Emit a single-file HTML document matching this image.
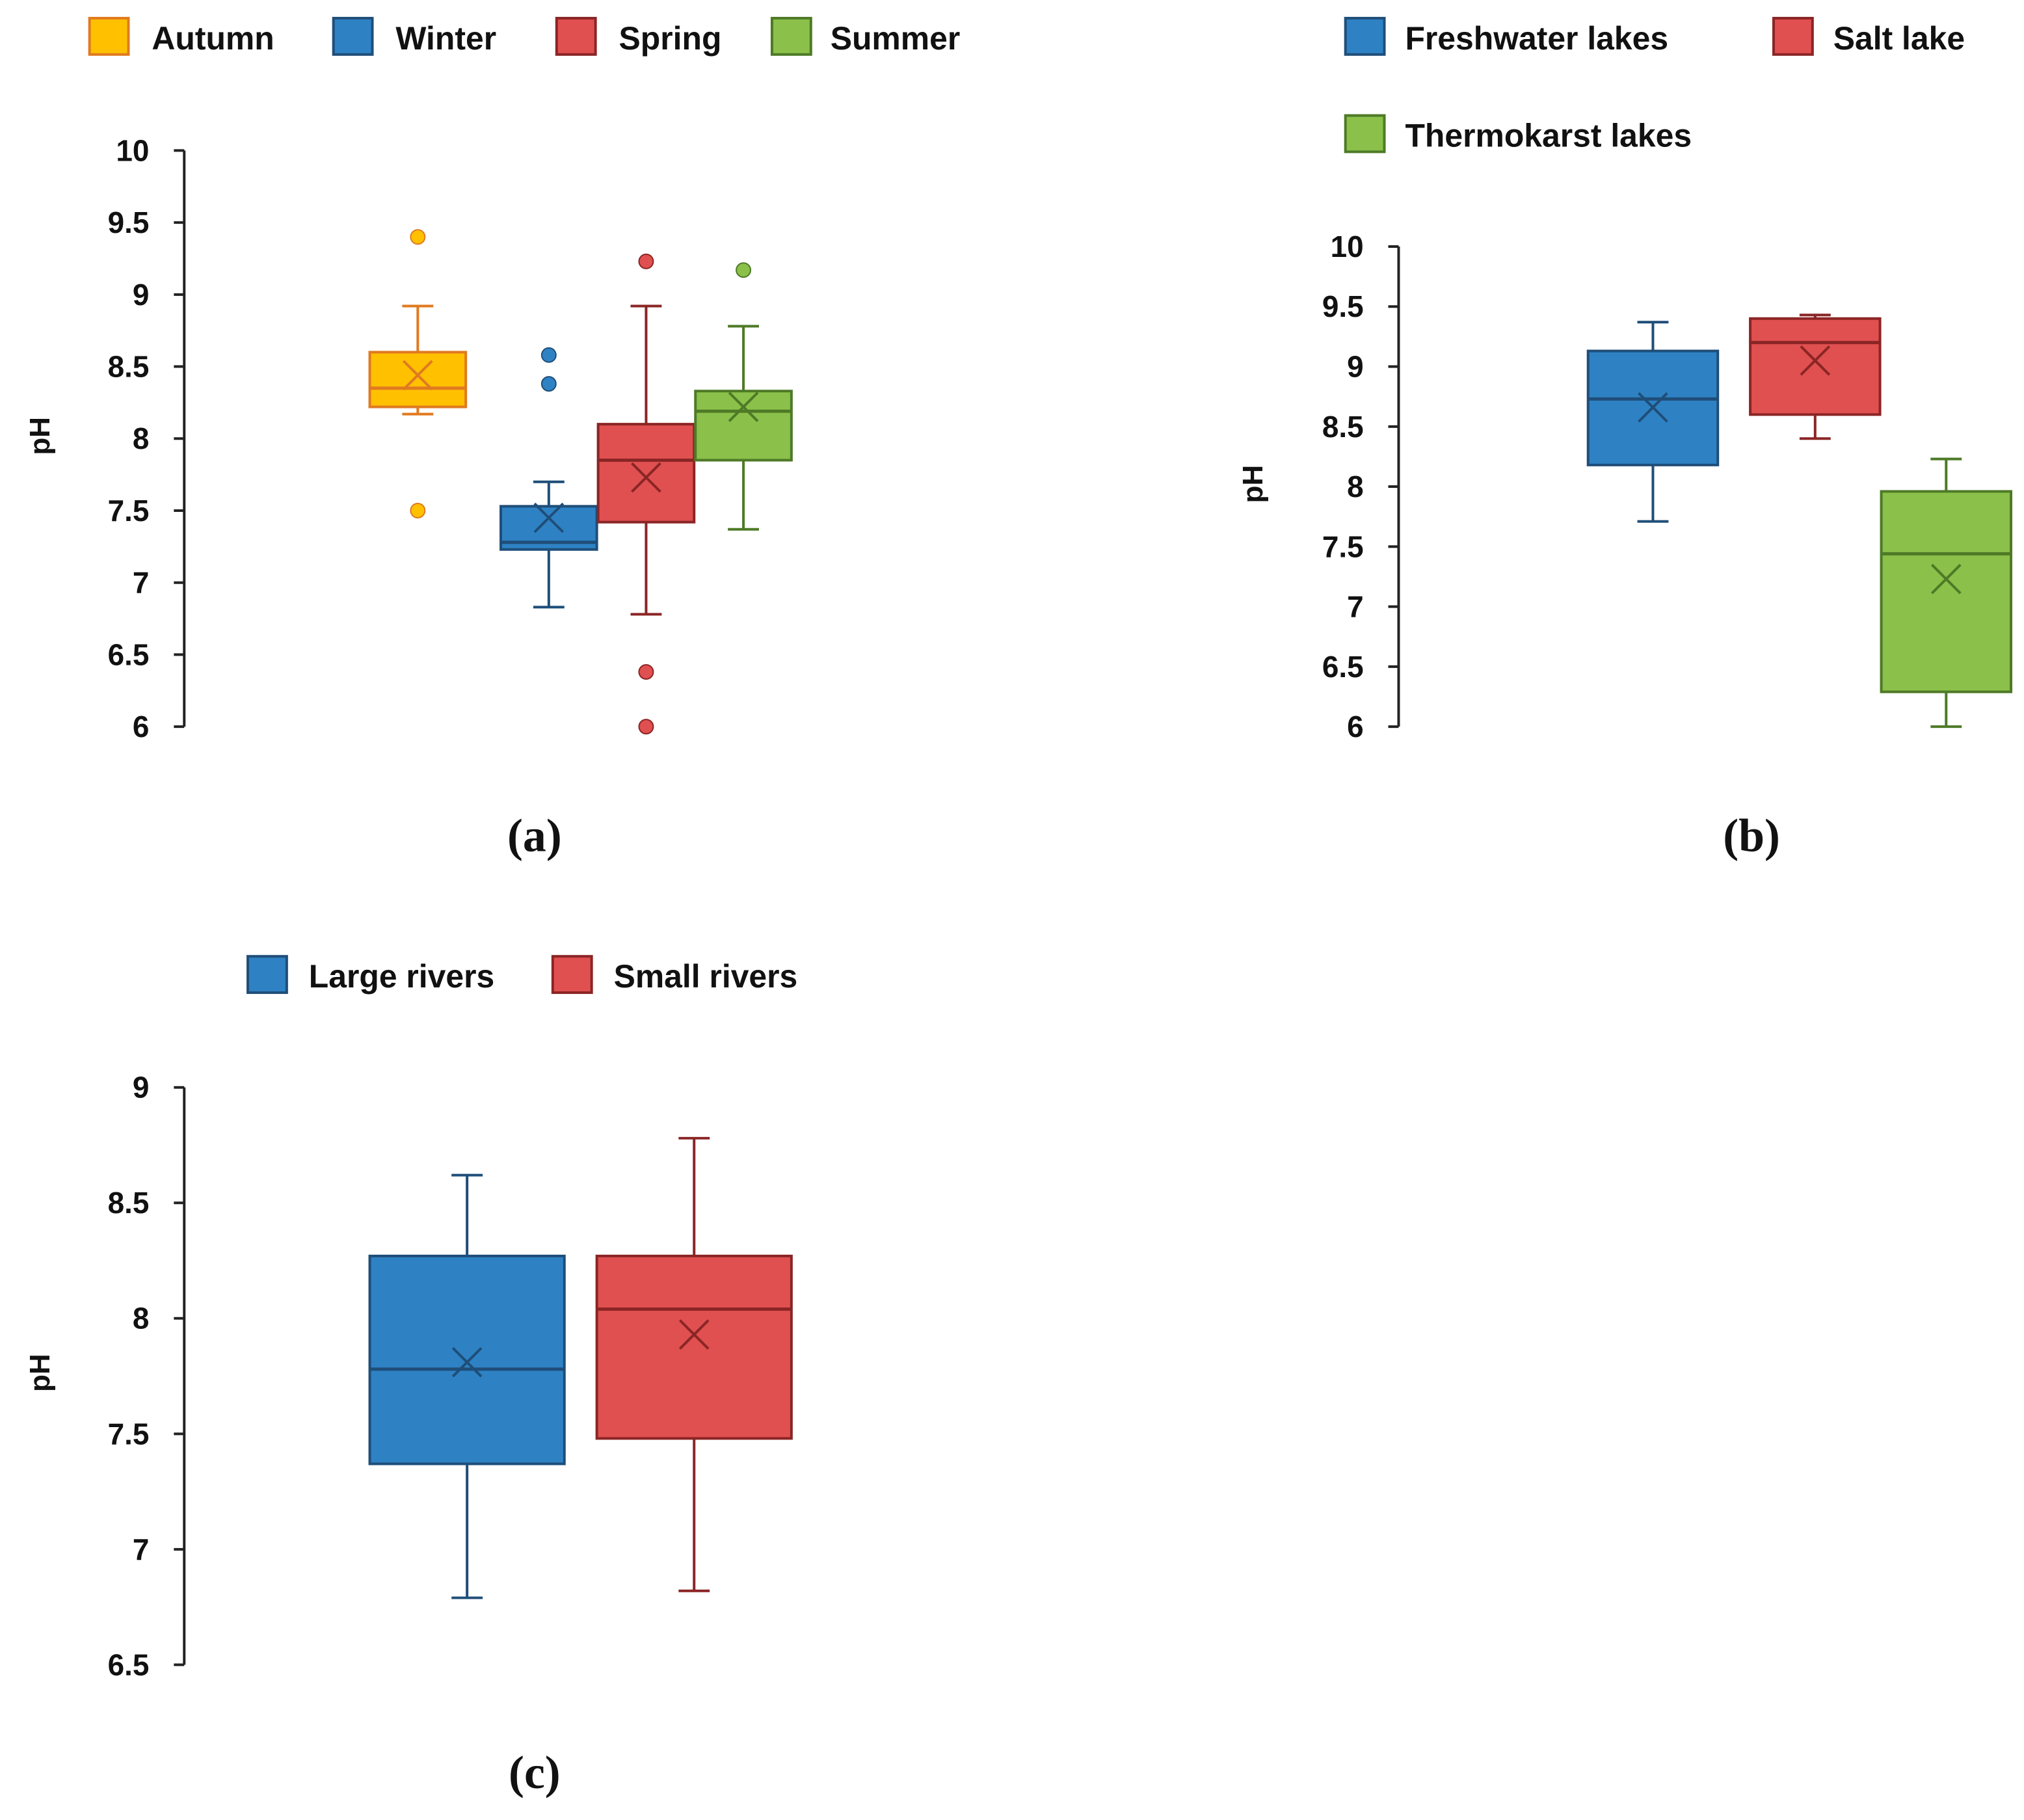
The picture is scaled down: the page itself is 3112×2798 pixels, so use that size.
<!DOCTYPE html>
<html><head><meta charset="utf-8"><style>
html,body{margin:0;padding:0;background:#fff}
svg{display:block}
text{font-family:"Liberation Sans",sans-serif;font-weight:bold;fill:#111}
</style></head><body>
<svg id="root" width="3112" height="2798" viewBox="0 0 1560 1402.6" xmlns="http://www.w3.org/2000/svg"></svg>
<script>
// Panel (a) data
const catsA = ["Autumn","Winter","Spring","Summer"];
const q1A = [8.22,7.23,7.42,7.85];
const q3A = [8.60,7.53,8.10,8.33];
const medA = [8.35,7.28,7.85,8.19];
const meanA = [8.44,7.45,7.73,8.22];
const loA = [8.17,6.83,6.78,7.37];
const hiA = [8.92,7.70,8.92,8.78];
const outA = [[9.40,7.50],[8.58,8.38],[9.23,6.38,6.00],[9.17]];
const ticksA = ["6","6.5","7","7.5","8","8.5","9","9.5","10"];
// Panel (b) data
const catsB = ["Freshwater lakes","Salt lake","Thermokarst lakes"];
const q1B = [8.18,8.60,6.29];
const q3B = [9.13,9.40,7.96];
const medB = [8.73,9.20,7.44];
const meanB = [8.66,9.05,7.23];
const loB = [7.71,8.40,6.00];
const hiB = [9.37,9.43,8.23];
const ticksB = ["6","6.5","7","7.5","8","8.5","9","9.5","10"];
// Panel (c) data
const catsC = ["Large rivers","Small rivers"];
const q1C = [7.37,7.48];
const q3C = [8.27,8.27];
const medC = [7.78,8.04];
const meanC = [7.81,7.93];
const loC = [6.79,6.82];
const hiC = [8.62,8.78];
const ticksC = ["6.5","7","7.5","8","8.5","9"];

const fills = {Autumn:"#FFC000",Winter:"#2E82C4",Spring:"#E05050",Summer:"#8BC04A","Freshwater lakes":"#2E82C4","Salt lake":"#E05050","Thermokarst lakes":"#8BC04A","Large rivers":"#2E82C4","Small rivers":"#E05050"};
const strokes = {Autumn:"#E07A1F",Winter:"#1F4E79",Spring:"#8B2525",Summer:"#4E7A27","Freshwater lakes":"#1F4E79","Salt lake":"#8B2525","Thermokarst lakes":"#4E7A27","Large rivers":"#1F4E79","Small rivers":"#8B2525"};

const NS="http://www.w3.org/2000/svg";
const root=document.getElementById('root');
function mk(tag,attrs,parent,txt){const e=document.createElementNS(NS,tag);for(const k in attrs)e.setAttribute(k,attrs[k]);if(txt!==undefined)e.textContent=txt;(parent||root).appendChild(e);return e;}

function panel(cfg){
  const g=mk('g',{});
  
  
  const y=v=>cfg.y0+(v-cfg.vmin)/(cfg.vmax-cfg.vmin)*(cfg.y1-cfg.y0);
  const ax=mk('line',{x1:cfg.ax,x2:cfg.ax,y1:y(cfg.vmax),y2:y(cfg.vmin),stroke:"#222","stroke-width":2},g);
  
  
  cfg.ticks.forEach(t=>{
    const v=parseFloat(t);
    const tk=mk('line',{x1:cfg.ax-8,x2:cfg.ax,y1:y(v),y2:y(v),stroke:"#222","stroke-width":2},g);
    
    
    const tl=mk('text',{x:cfg.ax-27,y:y(v)+8,"text-anchor":"end","font-size":23},g,t);
    
    
  });
  const yt=mk('text',{transform:`translate(${cfg.labX},${cfg.labY}) rotate(-90)`,"text-anchor":"middle","font-size":22},g,"pH");
  
  
  cfg.cats.forEach((c,i)=>{
    const cx=cfg.xs[i], w=cfg.bw, f=fills[c], s=strokes[c];
    const bg=mk('g',{},g);
    
    
    mk('line',{x1:cx,x2:cx,y1:y(cfg.hi[i]),y2:y(cfg.lo[i]),stroke:s,"stroke-width":2},bg);
    mk('line',{x1:cx-12,x2:cx+12,y1:y(cfg.hi[i]),y2:y(cfg.hi[i]),stroke:s,"stroke-width":2},bg);
    mk('line',{x1:cx-12,x2:cx+12,y1:y(cfg.lo[i]),y2:y(cfg.lo[i]),stroke:s,"stroke-width":2},bg);
    mk('rect',{x:cx-w/2,y:y(cfg.q3[i]),width:w,height:y(cfg.q1[i])-y(cfg.q3[i]),fill:f,stroke:s,"stroke-width":2},bg);
    mk('line',{x1:cx-w/2,x2:cx+w/2,y1:y(cfg.med[i]),y2:y(cfg.med[i]),stroke:s,"stroke-width":2.5},bg);
    const my=y(cfg.mean[i]),d=11;
    mk('path',{d:`M${cx-d} ${my-d}L${cx+d} ${my+d}M${cx+d} ${my-d}L${cx-d} ${my+d}`,stroke:s,"stroke-width":2,fill:"none"},bg);
    if(cfg.out) cfg.out[i].forEach(v=>{
      const o=mk('circle',{cx:cx,cy:y(v),r:5.5,fill:f,stroke:s,"stroke-width":1},bg);
      
      
    });
  });
  cfg.legend.forEach(l=>{
    const lg=mk('g',{},g);
    
    
    mk('rect',{x:l[1],y:l[2],width:30,height:28,fill:fills[l[0]],stroke:strokes[l[0]],"stroke-width":2},lg);
    mk('text',{x:l[3],y:l[2]+24,"font-size":25},lg,l[0]);
  });
  const pl=mk('text',{x:cfg.pX,y:cfg.pY,"text-anchor":"middle","font-size":36,style:"font-family:'Liberation Serif',serif"},g,cfg.plabel);
  
  
}

panel({name:'panel-a-seasons',cats:catsA,q1:q1A,q3:q3A,med:medA,mean:meanA,lo:loA,hi:hiA,out:outA,ticks:ticksA,
  vmin:6,vmax:10,y0:560,y1:116,ax:142,xs:[322,423,498,573],bw:74,labX:38,labY:336,
  legend:[["Autumn",69,14,117],["Winter",257,14,305],["Spring",429,14,477],["Summer",595,14,640]],
  plabel:"(a)",pX:412,pY:656});
panel({name:'panel-b-lakes',cats:catsB,q1:q1B,q3:q3B,med:medB,mean:meanB,lo:loB,hi:hiB,out:null,ticks:ticksB,
  vmin:6,vmax:10,y0:560,y1:190,ax:1078,xs:[1274,1399,1500],bw:100,labX:973,labY:373,
  legend:[["Freshwater lakes",1037,14,1083],["Salt lake",1367,14,1413],["Thermokarst lakes",1037,89,1083]],
  plabel:"(b)",pX:1350,pY:656});
panel({name:'panel-c-rivers',cats:catsC,q1:q1C,q3:q3C,med:medC,mean:meanC,lo:loC,hi:hiC,out:null,ticks:ticksC,
  vmin:6.5,vmax:9,y0:1283,y1:838,ax:142,xs:[360,535],bw:150,labX:38,labY:1058,
  legend:[["Large rivers",191,737,238],["Small rivers",426,737,473]],
  plabel:"(c)",pX:412,pY:1378});
</script>
</body></html>
